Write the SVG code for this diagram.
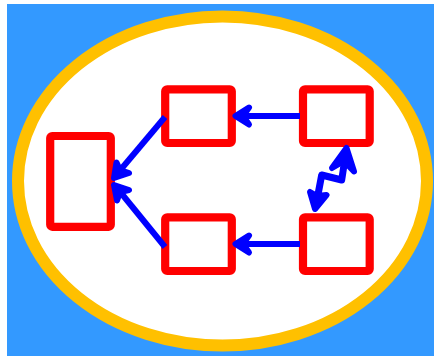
<svg xmlns="http://www.w3.org/2000/svg" width="434" height="356" viewBox="0 0 434 356">
<style>
.n{fill:#fff;stroke:#f00;stroke-width:8.2}
.c{fill:none;stroke:#00f;stroke-width:6;stroke-linejoin:round}
.z{fill:none;stroke:#00f;stroke-width:7;stroke-linejoin:round}
.h{fill:#00f;stroke:#00f;stroke-width:6;stroke-linecap:round;stroke-linejoin:round}
</style>
<rect x="7" y="4" width="427" height="352" fill="#3399ff"/>
<ellipse cx="222.500" cy="181" rx="204.500" ry="164.500" fill="#fff" stroke="#ffc000" stroke-width="12"/>
<g id="node-left"><rect class="n" x="50.200" y="136" width="60.600" height="90.800" rx="2"/></g>
<g id="node-mid-top"><rect class="n" x="165.200" y="89.300" width="66.600" height="53.700" rx="2"/></g>
<g id="node-mid-bottom"><rect class="n" x="165.200" y="217.300" width="66.600" height="53.700" rx="2"/></g>
<g id="node-right-top"><rect class="n" x="303" y="89.300" width="66.700" height="53.700" rx="2"/></g>
<g id="node-right-bottom"><rect class="n" x="303" y="217.300" width="66.700" height="53.700" rx="2"/></g>
<g id="connectors">
<path class="c" d="M300 116H240"/><path class="h" d="M249 107.500L235.500 116L249 124.500L243 116Z"/>
<path class="c" d="M300 244H240"/><path class="h" d="M249 235.500L235.500 244L249 252.500L243 244Z"/>
<path class="c" d="M165 117L117 174"/><path class="h" d="M116.500 162.500L114 178L129 173L120 170Z"/>
<path class="c" d="M165 247L117 188"/><path class="h" d="M129 190L114 185L117 200.500L120 192Z"/>
<path class="z" d="M346 152L341.700 180L321.700 175L316 205"/>
<path class="h" d="M332 168L346.500 148L354 171.500L344 161Z"/>
<path class="h" d="M310 192L315 209L326.500 195L317 196Z"/>
</g>
</svg>
